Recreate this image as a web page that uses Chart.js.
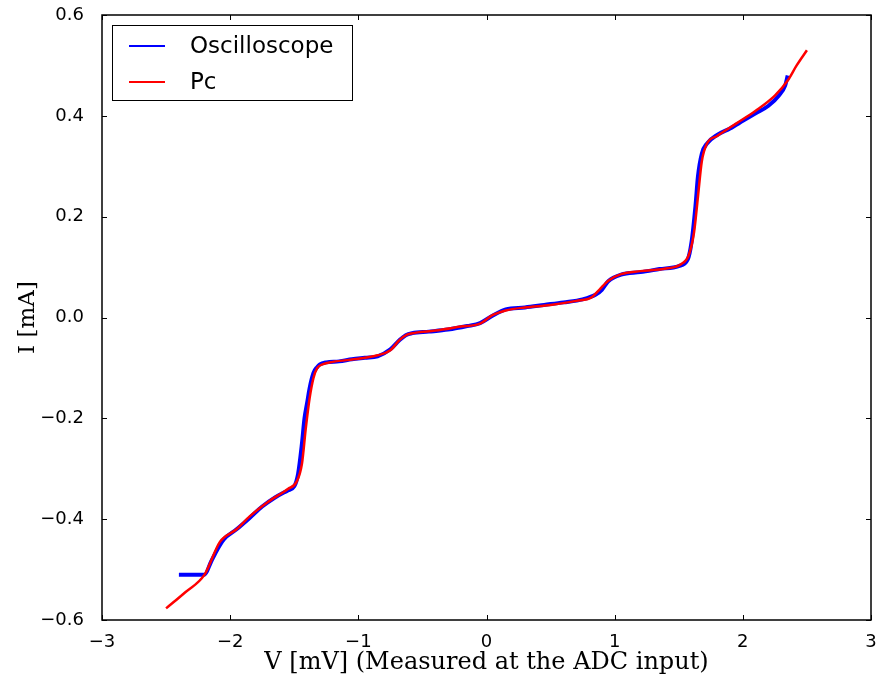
<!DOCTYPE html>
<html>
<head>
<meta charset="utf-8">
<script src="https://cdn.jsdelivr.net/npm/chart.js@4"></script>
<style>
  html, body { margin: 0; padding: 0; background: #fff; }
  #wrap { width: 880px; height: 679px; }
</style>
</head>
<body>
<div id="wrap"><canvas id="ivChart" width="880" height="679"></canvas></div>
<script>
// Oscilloscope trace (noisy, ends at ~2.35 mV)
const oscV = [-2.4, -2.2, -2.15, -2.1, -2.05, -1.95, -1.85, -1.75, -1.65, -1.55, -1.5, -1.47, -1.44, -1.42, -1.40, -1.38, -1.35, -1.32, -1.3, -1.25, -1.15, -1.05, -0.95, -0.85, -0.75, -0.68, -0.63, -0.58, -0.45, -0.3, -0.15, -0.05, 0.05, 0.15, 0.3, 0.45, 0.6, 0.75, 0.85, 0.9, 0.95, 1.05, 1.2, 1.35, 1.5, 1.57, 1.6, 1.63, 1.65, 1.68, 1.72, 1.8, 1.9, 2.0, 2.1, 2.2, 2.28, 2.33, 2.35];
const oscI = [-0.51, -0.51, -0.485, -0.46, -0.44, -0.42, -0.398, -0.375, -0.357, -0.343, -0.335, -0.31, -0.25, -0.2, -0.17, -0.14, -0.11, -0.098, -0.093, -0.089, -0.087, -0.083, -0.080, -0.077, -0.063, -0.045, -0.035, -0.031, -0.028, -0.024, -0.017, -0.011, 0.004, 0.016, 0.02, 0.025, 0.03, 0.036, 0.045, 0.055, 0.072, 0.085, 0.09, 0.096, 0.102, 0.115, 0.15, 0.22, 0.28, 0.325, 0.345, 0.362, 0.375, 0.39, 0.405, 0.42, 0.44, 0.46, 0.48];

// Pc trace (smooth)
const pcV = [-2.5, -2.35, -2.2, -2.08, -1.95, -1.85, -1.7, -1.55, -1.48, -1.44, -1.41, -1.38, -1.35, -1.32, -1.28, -1.2, -1.0, -0.85, -0.75, -0.68, -0.62, -0.55, -0.4, -0.2, -0.05, 0.05, 0.15, 0.3, 0.5, 0.7, 0.82, 0.88, 0.95, 1.05, 1.2, 1.4, 1.52, 1.58, 1.62, 1.65, 1.68, 1.72, 1.8, 1.95, 2.1, 2.25, 2.35, 2.42, 2.5];
const pcI = [-0.577, -0.545, -0.51, -0.445, -0.42, -0.395, -0.365, -0.34, -0.325, -0.29, -0.22, -0.16, -0.12, -0.10, -0.093, -0.088, -0.082, -0.075, -0.065, -0.045, -0.034, -0.03, -0.026, -0.018, -0.012, 0.005, 0.014, 0.02, 0.025, 0.033, 0.04, 0.055, 0.073, 0.086, 0.092, 0.097, 0.106, 0.125, 0.17, 0.24, 0.31, 0.345, 0.36, 0.385, 0.41, 0.44, 0.47, 0.5, 0.53];

const xTicks = [-3, -2, -1, 0, 1, 2, 3];
const yTicks = [-0.6, -0.4, -0.2, 0.0, 0.2, 0.4, 0.6];

const seriesNames = ['Oscilloscope', 'Pc'];
const seriesColors = ['#0000ff', '#ff0000'];

const toPts = (xs, ys) => xs.map((x, i) => ({ x: x, y: ys[i] }));
const minus = s => s.replace('-', '\u2212');

// matplotlib-like frame, inward ticks on all sides, and legend inside the axes
const framePlugin = {
  id: 'frame',
  afterDraw(chart) {
    const { ctx, chartArea: a, scales } = chart;
    ctx.save();
    ctx.strokeStyle = '#000';
    ctx.lineWidth = 1.5;
    ctx.strokeRect(a.left, a.top, a.right - a.left, a.bottom - a.top);
    ctx.lineWidth = 1;
    xTicks.forEach(v => {
      const px = Math.round(scales.x.getPixelForValue(v)) + 0.5;
      ctx.beginPath();
      ctx.moveTo(px, a.bottom); ctx.lineTo(px, a.bottom - 5);
      ctx.moveTo(px, a.top); ctx.lineTo(px, a.top + 5);
      ctx.stroke();
    });
    yTicks.forEach(v => {
      const py = Math.round(scales.y.getPixelForValue(v)) + 0.5;
      ctx.beginPath();
      ctx.moveTo(a.left, py); ctx.lineTo(a.left + 5, py);
      ctx.moveTo(a.right, py); ctx.lineTo(a.right - 5, py);
      ctx.stroke();
    });

    // legend box
    const bx = a.left + 10, by = a.top + 10, bw = 240, bh = 75;
    ctx.fillStyle = '#fff';
    ctx.fillRect(bx, by, bw, bh);
    ctx.strokeStyle = '#000';
    ctx.lineWidth = 1;
    ctx.strokeRect(bx + 0.5, by + 0.5, bw, bh);
    ctx.font = '23px "DejaVu Sans"';
    ctx.textBaseline = 'middle';
    seriesNames.forEach((name, i) => {
      const ly = by + 21 + i * 36;
      ctx.strokeStyle = seriesColors[i];
      ctx.lineWidth = 2;
      ctx.beginPath();
      ctx.moveTo(bx + 17, ly); ctx.lineTo(bx + 53, ly);
      ctx.stroke();
      ctx.fillStyle = '#000';
      ctx.fillText(name, bx + 78, ly + 1);
    });
    ctx.restore();
  }
};

const ctxIV = document.getElementById('ivChart').getContext('2d');
new Chart(ctxIV, {
  type: 'scatter',
  data: {
    datasets: [{
      label: seriesNames[0],
      data: toPts(oscV, oscI),
      showLine: true,
      borderColor: seriesColors[0],
      borderWidth: 4,
      pointRadius: 0,
      cubicInterpolationMode: 'monotone',
      order: 1
    }, {
      label: seriesNames[1],
      data: toPts(pcV, pcI),
      showLine: true,
      borderColor: seriesColors[1],
      borderWidth: 2.5,
      pointRadius: 0,
      cubicInterpolationMode: 'monotone',
      order: 0
    }]
  },
  options: {
    responsive: false,
    animation: false,
    layout: { padding: { left: 0, right: 9, top: 15, bottom: 0 } },
    plugins: { legend: { display: false }, tooltip: { enabled: false } },
    scales: {
      x: {
        type: 'linear', min: -3, max: 3,
        afterBuildTicks: s => { s.ticks = xTicks.map(v => ({ value: v })); },
        afterFit: s => { s.height = 59; s.paddingLeft = 0; s.paddingRight = 0; },
        grid: { display: false },
        border: { display: false },
        ticks: {
          color: '#000', padding: 4,
          font: { family: 'DejaVu Sans', size: 18 },
          callback: v => minus(String(v))
        },
        title: {
          display: true, text: 'V [mV] (Measured at the ADC input)',
          color: '#000', padding: { top: 0, bottom: 2 },
          font: { family: 'DejaVu Serif', size: 24 }
        }
      },
      y: {
        type: 'linear', min: -0.6, max: 0.6,
        afterBuildTicks: s => { s.ticks = yTicks.map(v => ({ value: v })); },
        afterFit: s => { s.width = 102; s.paddingTop = 0; s.paddingBottom = 0; },
        grid: { display: false },
        border: { display: false },
        ticks: {
          color: '#000', padding: 10,
          font: { family: 'DejaVu Sans', size: 18 },
          callback: v => minus(Number(v).toFixed(1))
        },
        title: {
          display: true, text: 'I [mA]',
          color: '#000', padding: { top: 14, bottom: 0 },
          font: { family: 'DejaVu Serif', size: 23 }
        }
      }
    }
  },
  plugins: [framePlugin]
});
</script>
</body>
</html>
